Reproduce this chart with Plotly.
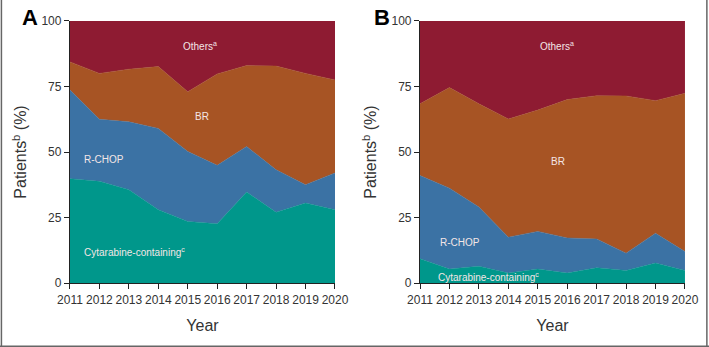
import plotly.graph_objects as go

years = [2011, 2012, 2013, 2014, 2015, 2016, 2017, 2018, 2019, 2020]
tick_vals = [0, 25, 50, 75, 100]

# Panel A (values in % of patients, stacked bottom to top)
a_cyt = [39.8, 38.8, 35.6, 28.0, 23.5, 22.6, 34.7, 27.0, 30.5, 28.0]
a_rchop = [33.9, 23.7, 25.9, 31.0, 26.7, 22.3, 17.4, 16.2, 7.0, 14.0]
a_br = [10.7, 17.5, 20.1, 23.6, 22.8, 34.9, 30.9, 39.6, 42.5, 35.5]
a_oth = [15.6, 20.0, 18.4, 17.4, 27.0, 20.2, 17.0, 17.2, 20.0, 22.5]

# Panel B
b_cyt = [9.3, 5.3, 6.4, 3.8, 5.3, 3.8, 5.8, 4.8, 7.6, 4.8]
b_rchop = [31.7, 30.9, 22.6, 13.7, 14.4, 13.4, 11.0, 6.6, 11.4, 7.2]
b_br = [27.4, 38.4, 39.4, 45.1, 46.3, 52.8, 54.7, 60.0, 50.6, 60.4]
b_oth = [31.6, 25.4, 31.6, 37.4, 34.0, 30.0, 28.5, 28.6, 30.4, 27.6]

colors = ["#00978b", "#3b72a4", "#a75424", "#8e1b32"]
names = ["Cytarabine-containing", "R-CHOP", "BR", "Others"]

fig = go.Figure()
for panel, series, xa, ya in [("A", [a_cyt, a_rchop, a_br, a_oth], "x", "y"),
                              ("B", [b_cyt, b_rchop, b_br, b_oth], "x2", "y2")]:
    for name, vals, col in zip(names, series, colors):
        fig.add_trace(go.Scatter(
            x=years, y=vals, mode="lines", stackgroup=panel,
            line=dict(width=0.5, color=col), fillcolor=col,
            name=name, showlegend=False, xaxis=xa, yaxis=ya,
            hoverinfo="skip"))

font_family = "Liberation Sans, Arial, sans-serif"
axis_common = dict(
    showline=True, linecolor="#222", linewidth=1.2, ticks="outside",
    ticklen=5, tickcolor="#222", showgrid=False, zeroline=False,
    automargin=False,
    tickfont=dict(size=12, color="#333", family=font_family),
)

fig.update_layout(
    width=709, height=347,
    margin=dict(l=0, r=0, t=0, b=0),
    paper_bgcolor="white", plot_bgcolor="white",
    font=dict(family=font_family),
    xaxis=dict(domain=[0.0987, 0.4725], range=[2011, 2020], tickvals=years,
               title=dict(text="Year", font=dict(size=16, color="#333"), standoff=14),
               anchor="y", **axis_common),
    yaxis=dict(domain=[0.1844, 0.9395], range=[0, 100], tickvals=tick_vals,
               title=dict(text="Patients<sup>b</sup> (%)", font=dict(size=16, color="#333"), standoff=10),
               anchor="x", **axis_common),
    xaxis2=dict(domain=[0.5924, 0.9661], range=[2011, 2020], tickvals=years,
                title=dict(text="Year", font=dict(size=16, color="#333"), standoff=14),
                anchor="y2", **axis_common),
    yaxis2=dict(domain=[0.1844, 0.9395], range=[0, 100], tickvals=tick_vals,
                title=dict(text="Patients<sup>b</sup> (%)", font=dict(size=16, color="#333"), standoff=10),
                anchor="x2", **axis_common),
)

lab_font = dict(size=10, color="#f4e6e6", family=font_family)
labels = [
    ("x", "y", 2015.4, 90.5, "Others<sup>a</sup>", "center"),
    ("x", "y", 2015.5, 63.4, "BR", "center"),
    ("x", "y", 2011.4, 47.0, "R-CHOP", "left"),
    ("x", "y", 2011.4, 11.8, "Cytarabine-containing<sup>c</sup>", "left"),
    ("x2", "y2", 2015.65, 90.5, "Others<sup>a</sup>", "center"),
    ("x2", "y2", 2015.7, 46.2, "BR", "center"),
    ("x2", "y2", 2011.6, 15.3, "R-CHOP", "left"),
    ("x2", "y2", 2011.55, 2.3, "Cytarabine-containing<sup>c</sup>", "left"),
]
for xr, yr, xv, yv, txt, anc in labels:
    fig.add_annotation(x=xv, y=yv, xref=xr, yref=yr, text=txt, showarrow=False,
                       xanchor=anc, yanchor="middle", font=lab_font)

for letter, px in [("A", 0.028), ("B", 0.525)]:
    fig.add_annotation(x=px, y=0.95, xref="paper", yref="paper", text="<b>%s</b>" % letter,
                       showarrow=False, xanchor="left", yanchor="middle",
                       font=dict(size=22, color="black", family=font_family))

border = "#666"
fig.add_shape(type="line", xref="paper", yref="paper", x0=0.002, x1=0.002, y0=0, y1=1,
              line=dict(color=border, width=1.5))
fig.add_shape(type="line", xref="paper", yref="paper", x0=0.997, x1=0.997, y0=0, y1=1,
              line=dict(color=border, width=1.5))
fig.add_shape(type="line", xref="paper", yref="paper", x0=0, x1=1, y0=0.002, y1=0.002,
              line=dict(color=border, width=1.5))

fig.write_html("out.html", config={"displayModeBar": False},
               post_script="document.body.style.margin='0';document.body.style.overflow='hidden';")
